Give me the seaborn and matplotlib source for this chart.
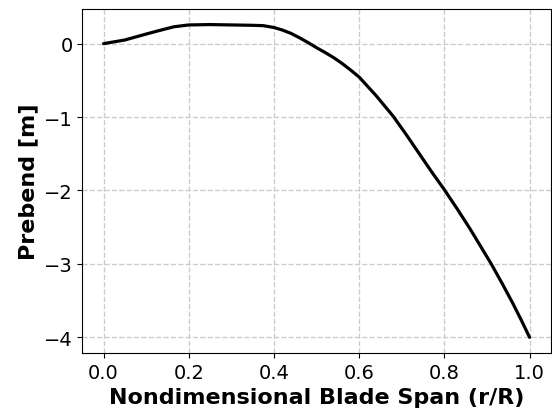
import pandas as pd
import matplotlib
matplotlib.use("Agg")
import matplotlib.pyplot as plt
import seaborn as sns

# Prebend distribution
span = [0.0, 0.05, 0.09, 0.125, 0.165, 0.2, 0.25, 0.3, 0.35, 0.375,
        0.4, 0.42, 0.44, 0.46, 0.48, 0.5, 0.52, 0.54, 0.56, 0.58,
        0.6, 0.64, 0.68, 0.71, 0.74, 0.77, 0.8, 0.83, 0.86, 0.885,
        0.91, 0.935, 0.96, 0.98, 1.0]
prebend = [0.0, 0.05, 0.115, 0.17, 0.23, 0.255, 0.26, 0.255, 0.25, 0.245,
           0.22, 0.185, 0.14, 0.08, 0.015, -0.055, -0.12, -0.19, -0.27, -0.36,
           -0.455, -0.71, -0.99, -1.235, -1.49, -1.745, -1.99, -2.25, -2.52, -2.76,
           -3.0, -3.26, -3.53, -3.76, -4.0]

df = pd.DataFrame({'r/R': span, 'prebend': prebend})

sns.set_style("ticks", {'text.color': 'black', 'axes.labelcolor': 'black',
                        'xtick.color': 'black', 'ytick.color': 'black',
                        'axes.edgecolor': 'black'})
plt.rcParams['font.family'] = ['DejaVu Sans']

fig = plt.figure(figsize=(5.52, 4.14), dpi=100)
ax = fig.add_axes([0.149, 0.145, 0.849, 0.831])

sns.lineplot(data=df, x='r/R', y='prebend', color='black', linewidth=2.3, ax=ax)

ax.set_xticks([0.0, 0.2, 0.4, 0.6, 0.8, 1.0])
ax.set_yticks([0, -1, -2, -3, -4])
ax.tick_params(labelsize=14, colors='black')
ax.set_xlabel('Nondimensional Blade Span (r/R)', fontsize=16, fontweight='bold')
ax.set_ylabel('Prebend [m]', fontsize=16, fontweight='bold')
ax.grid(True, linestyle='--', color='#cccccc', linewidth=1)

fig.savefig('out.png', dpi=100)
